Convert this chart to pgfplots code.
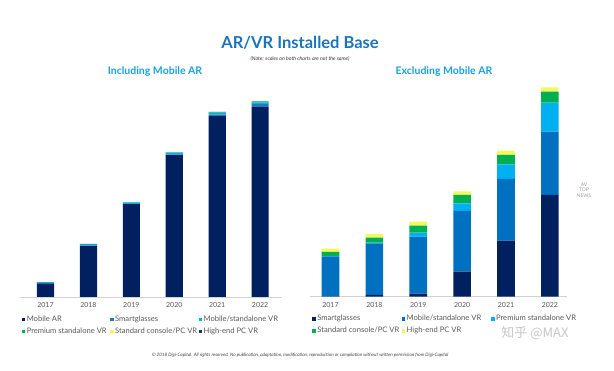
\documentclass[border=0pt]{standalone}
\usepackage{pgfplots}
\pgfplotsset{compat=1.18}
\usepackage{fontspec}
\setmainfont{Lato}
\newfontfamily\cjk{Noto Sans CJK SC}
\definecolor{navy}{HTML}{002060}
\definecolor{midblue}{HTML}{0070C0}
\definecolor{sgblue}{HTML}{2E75B6}
\definecolor{lightblue}{HTML}{00B0F0}
\definecolor{vrgreen}{HTML}{00B050}
\definecolor{vryellow}{HTML}{F4F85A}
\definecolor{hedark}{HTML}{1F3864}
\definecolor{titleblue}{HTML}{1C75BC}
\definecolor{subcyan}{HTML}{17A2DC}
\definecolor{ticktext}{HTML}{595959}

\pgfplotstableread{
x  ar     sg    mvr   prem  std   he
0  13.6   0.00  1.16  0.00  0.12  0.10
1  51.2   0.05  1.50  0.02  0.15  0.11
2  92.8   0.09  1.65  0.12  0.20  0.12
3  141.9  0.73  1.76  0.22  0.24  0.11
4  180.8  1.62  1.79  0.43  0.27  0.13
5  189.9  2.95  1.84  0.84  0.32  0.13
}\lefttable

\pgfplotstableread{
x  sg     mvr   prem  std   he
0  0.3    40.0  0.5   4.0   3.3
1  1.7    51.7  0.7   5.0   3.7
2  3.0    57.0  4.0   7.0   4.0
3  25.0   60.7  7.7   8.3   3.7
4  56.0   61.7  14.7  9.3   4.3
5  101.7  63.3  29.0  11.0  4.3
}\righttable

\pgfplotsset{
  arvr/.style={
    scale only axis,
    ybar stacked,
    bar width=0.4,
    ymin=0,
    axis x line*=bottom,
    hide y axis,
    x axis line style={draw=gray!35, line width=0.6pt},
    xtick={0,1,2,3,4,5},
    xticklabels={2017,2018,2019,2020,2021,2022},
    major tick length=0pt,
    xticklabel style={font=\fontsize{7}{8}\selectfont, text=ticktext, yshift=-2pt},
    every axis plot/.append style={draw=none},
    legend columns=3,
    legend cell align=left,
    legend style={draw=none, fill=none, font=\fontsize{7.6}{8.5}\selectfont, text=ticktext,
      anchor=north west, row sep=2pt,
      nodes={inner sep=1.5pt}},
    legend image code/.code={\fill[##1] (0pt,-1.7pt) rectangle (3.4pt,1.7pt);},
  }
}

\begin{document}
\begin{tikzpicture}[x=1pt,y=1pt]
\useasboundingbox (0,0) rectangle (614,371);

% titles
\node[font=\fontsize{16.5}{18}\selectfont\bfseries, text=titleblue] at (300,328) {AR/VR Installed Base};
\node[font=\fontsize{5.2}{6}\selectfont\itshape, text=black!80] at (300,312) {(Note: scales on both charts are not the same)};
\node[font=\fontsize{10.5}{11}\selectfont\bfseries, text=subcyan] at (155,299) {Including Mobile AR};
\node[font=\fontsize{10.5}{11}\selectfont\bfseries, text=subcyan] at (444,299) {Excluding Mobile AR};

% left chart
\begin{axis}[arvr,
  at={(20pt,74pt)}, anchor=south west,
  width=262pt, height=200pt,
  xmin=-0.594, xmax=5.51, ymax=200,
  legend style={at={(rel axis cs:-0.005,-0.075)}}]
\addplot[fill=navy] table[x=x,y=ar] {\lefttable};
\addlegendentry{\makebox[82pt][l]{Mobile AR}}
\addplot[fill=sgblue] table[x=x,y=sg] {\lefttable};
\addlegendentry{\makebox[82pt][l]{Smartglasses}}
\addplot[fill=lightblue] table[x=x,y=mvr] {\lefttable};
\addlegendentry{\makebox[82pt][l]{Mobile/standalone VR}}
\addplot[fill=vrgreen] table[x=x,y=prem] {\lefttable};
\addlegendentry{\makebox[82pt][l]{Premium standalone VR}}
\addplot[fill=vryellow] table[x=x,y=std] {\lefttable};
\addlegendentry{\makebox[82pt][l]{Standard console/PC VR}}
\addplot[fill=hedark] table[x=x,y=he] {\lefttable};
\addlegendentry{\makebox[82pt][l]{High-end PC VR}}
\end{axis}

% right chart
\begin{axis}[arvr,
  at={(310pt,74.3pt)}, anchor=south west,
  width=257pt, height=210pt,
  xmin=-0.467, xmax=5.39, ymax=210,
  legend style={at={(rel axis cs:-0.003,-0.071)}}]
\addplot[fill=navy] table[x=x,y=sg] {\righttable};
\addlegendentry{\makebox[83pt][l]{Smartglasses}}
\addplot[fill=midblue] table[x=x,y=mvr] {\righttable};
\addlegendentry{\makebox[83pt][l]{Mobile/standalone VR}}
\addplot[fill=lightblue] table[x=x,y=prem] {\righttable};
\addlegendentry{\makebox[83pt][l]{Premium standalone VR}}
\addplot[fill=vrgreen] table[x=x,y=std] {\righttable};
\addlegendentry{\makebox[83pt][l]{Standard console/PC VR}}
\addplot[fill=vryellow] table[x=x,y=he] {\righttable};
\addlegendentry{\makebox[83pt][l]{High-end PC VR}}
\end{axis}

% watermark and small marks
\node[font=\fontsize{5}{5.5}\selectfont, text=gray!75, align=center] at (584,181) {AV\\TOP\\NEWS};
\node[font=\cjk\fontsize{13}{14}\selectfont, text=gray!45] at (535,38) {知乎 @MAX};

% footer
\node[font=\fontsize{4.6}{5}\selectfont\itshape, text=black!75] at (300,16) {\textcopyright{} 2018 Digi-Capital. All rights reserved. No publication, adaptation, modification, reproduction or compilation without written permission from Digi-Capital};
\end{tikzpicture}
\end{document}
